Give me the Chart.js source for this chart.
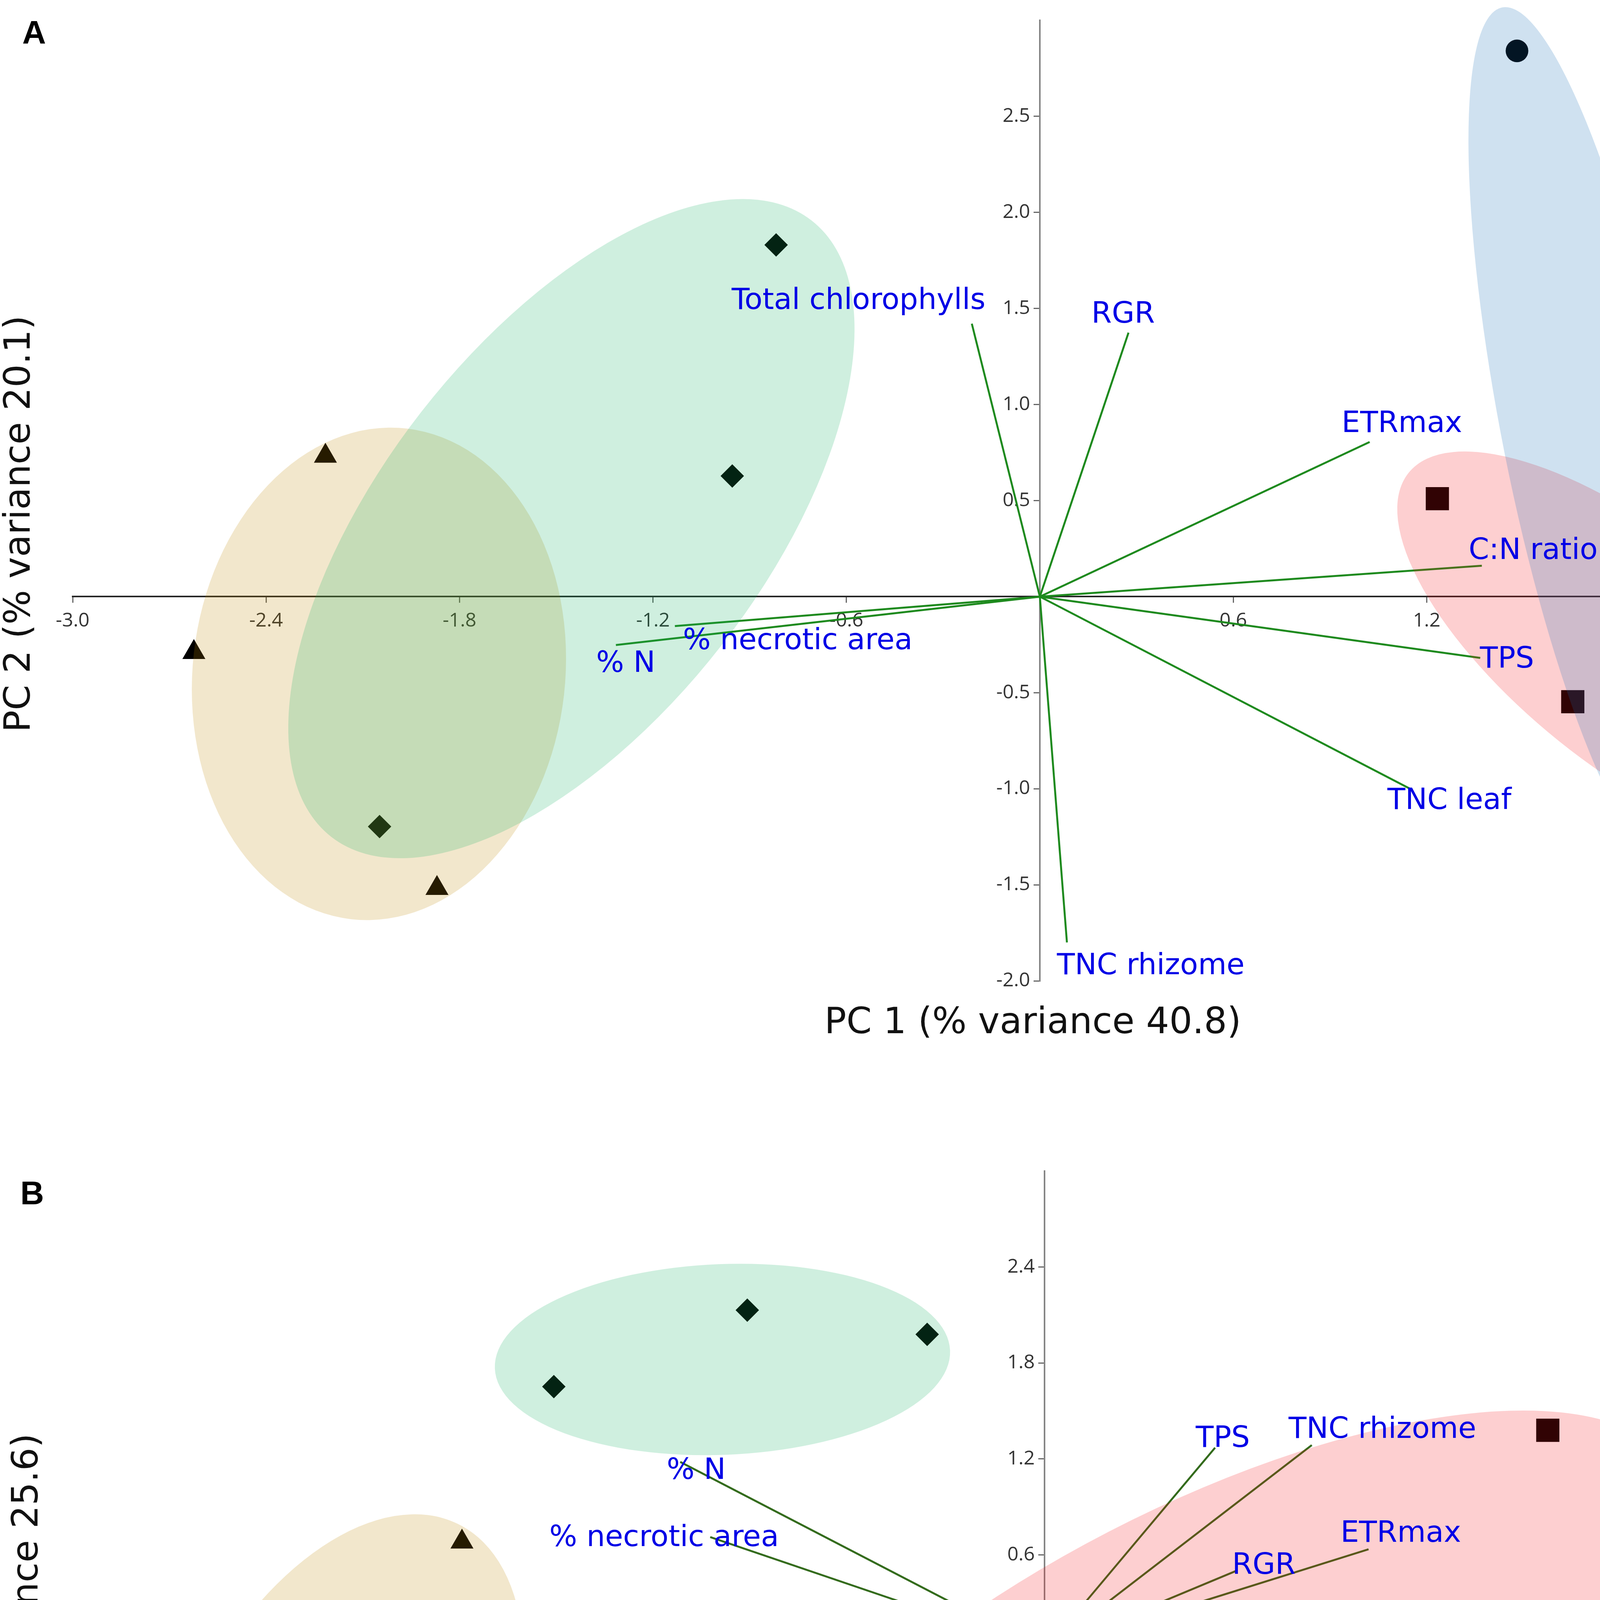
<!DOCTYPE html>
<html>
<head>
<meta charset="utf-8">
<script src="https://cdn.jsdelivr.net/npm/chart.js@4.4.1/dist/chart.umd.min.js"></script>
<style>
  html, body { margin: 0; padding: 0; background: #ffffff; }
  body { width: 5213px; height: 5654px; position: relative; overflow: hidden; }
  canvas { position: absolute; left: 0; }
  #chartA { top: 0; }
  #chartB { top: 2900px; }
</style>
</head>
<body>
<canvas id="chartA" width="5213" height="2900"></canvas>
<canvas id="chartB" width="5213" height="2754"></canvas>
<script>
// ---------------- DATA ----------------
const VARIABLES = ['Total chlorophylls', 'RGR', 'ETRmax', 'C:N ratio', 'TPS', 'TNC leaf', 'TNC rhizome', '% necrotic area', '% N'];

// Panel A (PC1 40.8 %, PC2 20.1 %)
const A_TRIANGLES = [[-2.216, 0.732], [-2.624, -0.290], [-1.870, -1.518]];
const A_DIAMONDS  = [[-0.818, 1.831], [-0.954, 0.628], [-2.048, -1.197]];
const A_SQUARES   = [[1.233, 0.510], [1.653, -0.547], [2.443, -1.075]];
const A_CIRCLES   = [[1.480, 2.841], [1.833, -0.693], [1.900, -1.242]];
const A_LOADING_X = [-0.211, 0.275, 1.023, 1.371, 1.366, 1.153, 0.084, -1.132, -1.315];
const A_LOADING_Y = [1.421, 1.374, 0.805, 0.161, -0.319, -1.004, -1.800, -0.153, -0.252];
const A_X_TICKS = [-3.0, -2.4, -1.8, -1.2, -0.6, 0, 0.6, 1.2, 1.8, 2.4, 3.0];
const A_Y_TICKS = [-2.0, -1.5, -1.0, -0.5, 0, 0.5, 1.0, 1.5, 2.0, 2.5, 3.0];
const A_X_TITLE = 'PC 1 (% variance 40.8)';
const A_Y_TITLE = 'PC 2 (% variance 20.1)';

// Panel B (PC1 43.5 %, PC2 25.6 %)
const B_TRIANGLES = [[-1.807, 0.681], [-2.667, -1.683], [-2.157, -2.061]];
const B_DIAMONDS  = [[-1.522, 1.652], [-0.922, 2.130], [-0.364, 1.979]];
const B_SQUARES   = [[1.561, 1.379], [0.705, -1.570], [-0.760, -0.902]];
const B_CIRCLES   = [[2.625, 0.081], [2.365, -0.843], [2.940, -0.818]];
const B_LOADING_X = [-0.762, 0.596, 1.005, 1.162, 0.529, 1.220, 0.829, -1.037, -1.130];
const B_LOADING_Y = [-1.116, 0.501, 0.635, -1.150, 1.270, 0.127, 1.286, 0.711, 1.181];
const B_X_TICKS = [-3.0, -2.4, -1.8, -1.2, -0.6, 0, 0.6, 1.2, 1.8, 2.4, 3.0];
const B_Y_TICKS = [-3.0, -2.4, -1.8, -1.2, -0.6, 0, 0.6, 1.2, 1.8, 2.4, 3.0];
const B_X_TITLE = 'PC 1 (% variance 43.5)';
const B_Y_TITLE = 'PC 2 (% variance 25.6)';

// Group ellipses (data units): centre, end of major semi-axis, end of minor semi-axis
const A_ELLIPSES = [
  { center: [-2.050, -0.402], major: [-1.964, 0.875], minor: [-1.476, -0.512] },   // triangles
  { center: [-1.453, 0.354],  major: [-0.708, 1.958], minor: [-0.988, -0.255] },   // diamonds
  { center: [1.835, -0.286],  major: [2.526, -1.217], minor: [2.059, 0.181] },     // squares
  { center: [1.700, 0.830],   major: [1.966, -1.407], minor: [1.958, 0.917] }      // circles
];
const B_ELLIPSES = [
  { center: [-2.196, -0.755], major: [-1.819, 0.793], minor: [-1.754, -1.193] },
  { center: [-0.999, 1.822],  major: [-0.293, 1.878], minor: [-0.987, 1.226] },
  { center: [0.497, -0.415],  major: [1.964, 1.111],  minor: [0.794, -1.576] },
  { center: [2.653, -0.499],  major: [3.058, -0.499], minor: [2.653, 0.200] }
];

// Where each variable name is written (data units: left edge, vertical middle)
const A_LABEL_AT = [[-0.956, 1.537], [0.160, 1.465], [0.936, 0.896], [1.330, 0.236], [1.365, -0.330],
                    [1.078, -1.065], [0.053, -1.925], [-1.107, -0.234], [-1.376, -0.353]];
const B_LABEL_AT = [[-1.043, -1.158], [0.582, 0.530], [0.918, 0.728], [1.093, -1.242], [0.469, 1.324],
                    [1.206, 0.144], [0.757, 1.379], [-1.536, 0.702], [-1.172, 1.122]];

// ---------------- STYLE ----------------
const GROUP_STYLE = [
  { shape: 'triangle', radius: 34, ellipse: 'rgba(190,135,0,0.2)' },
  { shape: 'rectRot',  radius: 30, ellipse: 'rgba(15,175,95,0.2)' },
  { shape: 'rect',     radius: 42, ellipse: 'rgba(245,15,20,0.2)' },
  { shape: 'circle',   radius: 29, ellipse: 'rgba(15,105,180,0.2)' }
];
const LABEL_COLOR = '#0000e6';
const LABEL_FONT = '75px "DejaVu Sans"';
const TITLE_FONT = '93px "DejaVu Sans"';
const LETTER_FONT = 'bold 84px "Liberation Sans", Arial, sans-serif';
const TICK_FONT = { family: '"Open Sans", "Noto Sans", sans-serif', size: 50 };
const Y_LABEL_GAP = '\u2002'; // keeps the y tick labels clear of the centred axis line

const PANELS = {
  A: {
    canvas: 'chartA', letter: 'A', letterAt: [57, 112],
    groups: [A_TRIANGLES, A_DIAMONDS, A_SQUARES, A_CIRCLES],
    loadX: A_LOADING_X, loadY: A_LOADING_Y, labelAt: A_LABEL_AT, ellipses: A_ELLIPSES,
    xTicks: A_X_TICKS, yTicks: A_Y_TICKS, xTitle: A_X_TITLE, yTitle: A_Y_TITLE,
    xTitleAt: [2644, 2621], yTitleAt: [52, 1341],
    padding: { left: 186, right: 75, top: 52, bottom: 389 },
    lineColor: '#1e8a1e', xBorder: '#262626', yBorder: '#858585'
  },
  B: {
    canvas: 'chartB', letter: 'B', letterAt: [52, 183],
    groups: [B_TRIANGLES, B_DIAMONDS, B_SQUARES, B_CIRCLES],
    loadX: B_LOADING_X, loadY: B_LOADING_Y, labelAt: B_LABEL_AT, ellipses: B_ELLIPSES,
    xTicks: B_X_TICKS, yTicks: B_Y_TICKS, xTitle: B_X_TITLE, yTitle: B_Y_TITLE,
    xTitleAt: [2671, 2693], yTitleAt: [72, 1303],
    padding: { left: 198, right: 63, top: 98, bottom: 200 },
    lineColor: '#336b1c', xBorder: '#5a5a5a', yBorder: '#858585'
  }
};

// ---------------- CHART ----------------
function hiddenTick(v, ticks) {
  return Math.abs(v) < 1e-9 || Math.abs(v - ticks[ticks.length - 1]) < 1e-9;
}

function annotations(P) {
  return {
    id: 'pcaAnnotations',
    afterDatasetsDraw(chart) {
      const { ctx, scales: { x, y } } = chart;
      ctx.save();
      P.ellipses.forEach((e, i) => {
        const cx = x.getPixelForValue(e.center[0]), cy = y.getPixelForValue(e.center[1]);
        const ax = x.getPixelForValue(e.major[0]) - cx, ay = y.getPixelForValue(e.major[1]) - cy;
        const bx = x.getPixelForValue(e.minor[0]) - cx, by = y.getPixelForValue(e.minor[1]) - cy;
        ctx.save();
        ctx.transform(ax, ay, bx, by, cx, cy);
        ctx.beginPath();
        ctx.arc(0, 0, 1, 0, Math.PI * 2);
        ctx.restore();
        ctx.fillStyle = GROUP_STYLE[i].ellipse;
        ctx.fill();
      });
      ctx.restore();
    },
    afterDraw(chart) {
      const { ctx, scales: { x, y } } = chart;
      ctx.save();
      ctx.fillStyle = LABEL_COLOR;
      ctx.font = LABEL_FONT;
      ctx.textAlign = 'left';
      ctx.textBaseline = 'middle';
      VARIABLES.forEach((name, i) => {
        const [lx, ly] = P.labelAt[i];
        ctx.fillText(name, x.getPixelForValue(lx), y.getPixelForValue(ly));
      });
      ctx.fillStyle = '#111';
      ctx.font = TITLE_FONT;
      ctx.textAlign = 'center';
      ctx.fillText(P.xTitle, P.xTitleAt[0], P.xTitleAt[1]);
      ctx.save();
      ctx.translate(P.yTitleAt[0], P.yTitleAt[1]);
      ctx.rotate(-Math.PI / 2);
      ctx.fillText(P.yTitle, 0, 0);
      ctx.restore();
      ctx.fillStyle = '#000';
      ctx.font = LETTER_FONT;
      ctx.textAlign = 'left';
      ctx.textBaseline = 'alphabetic';
      ctx.fillText(P.letter, P.letterAt[0], P.letterAt[1]);
      ctx.restore();
    }
  };
}

function buildChart(P) {
  const groupSets = P.groups.map((g, i) => ({
    label: 'group ' + (i + 1),
    data: g.map(([x, y]) => ({ x, y })),
    pointStyle: GROUP_STYLE[i].shape,
    pointRadius: GROUP_STYLE[i].radius,
    pointHoverRadius: GROUP_STYLE[i].radius,
    pointBackgroundColor: '#000000',
    pointBorderColor: '#000000',
    pointBorderWidth: 0,
    showLine: false,
    order: 1
  }));
  const loadingSets = VARIABLES.map((name, i) => ({
    label: name,
    data: [{ x: 0, y: 0 }, { x: P.loadX[i], y: P.loadY[i] }],
    showLine: true,
    borderColor: P.lineColor,
    borderWidth: 5,
    pointRadius: 0,
    pointHoverRadius: 0,
    fill: false,
    order: 2
  }));
  const tickColor = (ticks) => (c) => (c.tick && hiddenTick(c.tick.value, ticks)) ? 'rgba(0,0,0,0)' : '#666';
  return new Chart(document.getElementById(P.canvas), {
    type: 'scatter',
    data: { datasets: [...loadingSets, ...groupSets] },
    options: {
      responsive: false,
      animation: false,
      devicePixelRatio: 1,
      layout: { padding: P.padding },
      plugins: { legend: { display: false }, tooltip: { enabled: false }, title: { display: false } },
      scales: {
        x: {
          type: 'linear',
          position: { y: 0 },
          min: P.xTicks[0], max: P.xTicks[P.xTicks.length - 1],
          afterBuildTicks: (s) => { s.ticks = P.xTicks.map(v => ({ value: v })); },
          ticks: {
            autoSkip: false, maxRotation: 0, minRotation: 0, padding: 18,
            color: '#333', font: TICK_FONT,
            callback: (v) => hiddenTick(v, P.xTicks) ? '' : Number(v).toFixed(1)
          },
          grid: { drawOnChartArea: false, drawTicks: true, tickLength: 14, lineWidth: 3, color: tickColor(P.xTicks) },
          border: { display: true, color: P.xBorder, width: 4 }
        },
        y: {
          type: 'linear',
          position: { x: 0 },
          min: P.yTicks[0], max: P.yTicks[P.yTicks.length - 1],
          afterBuildTicks: (s) => { s.ticks = P.yTicks.map(v => ({ value: v })); },
          ticks: {
            autoSkip: false, padding: 12,
            color: '#333', font: TICK_FONT,
            callback: (v) => hiddenTick(v, P.yTicks) ? '' : Number(v).toFixed(1) + Y_LABEL_GAP
          },
          grid: { drawOnChartArea: false, drawTicks: true, tickLength: 14, lineWidth: 3, color: tickColor(P.yTicks) },
          border: { display: true, color: P.yBorder, width: 4 }
        }
      }
    },
    plugins: [annotations(P)]
  });
}

buildChart(PANELS.A);
buildChart(PANELS.B);
</script>
</body>
</html>
